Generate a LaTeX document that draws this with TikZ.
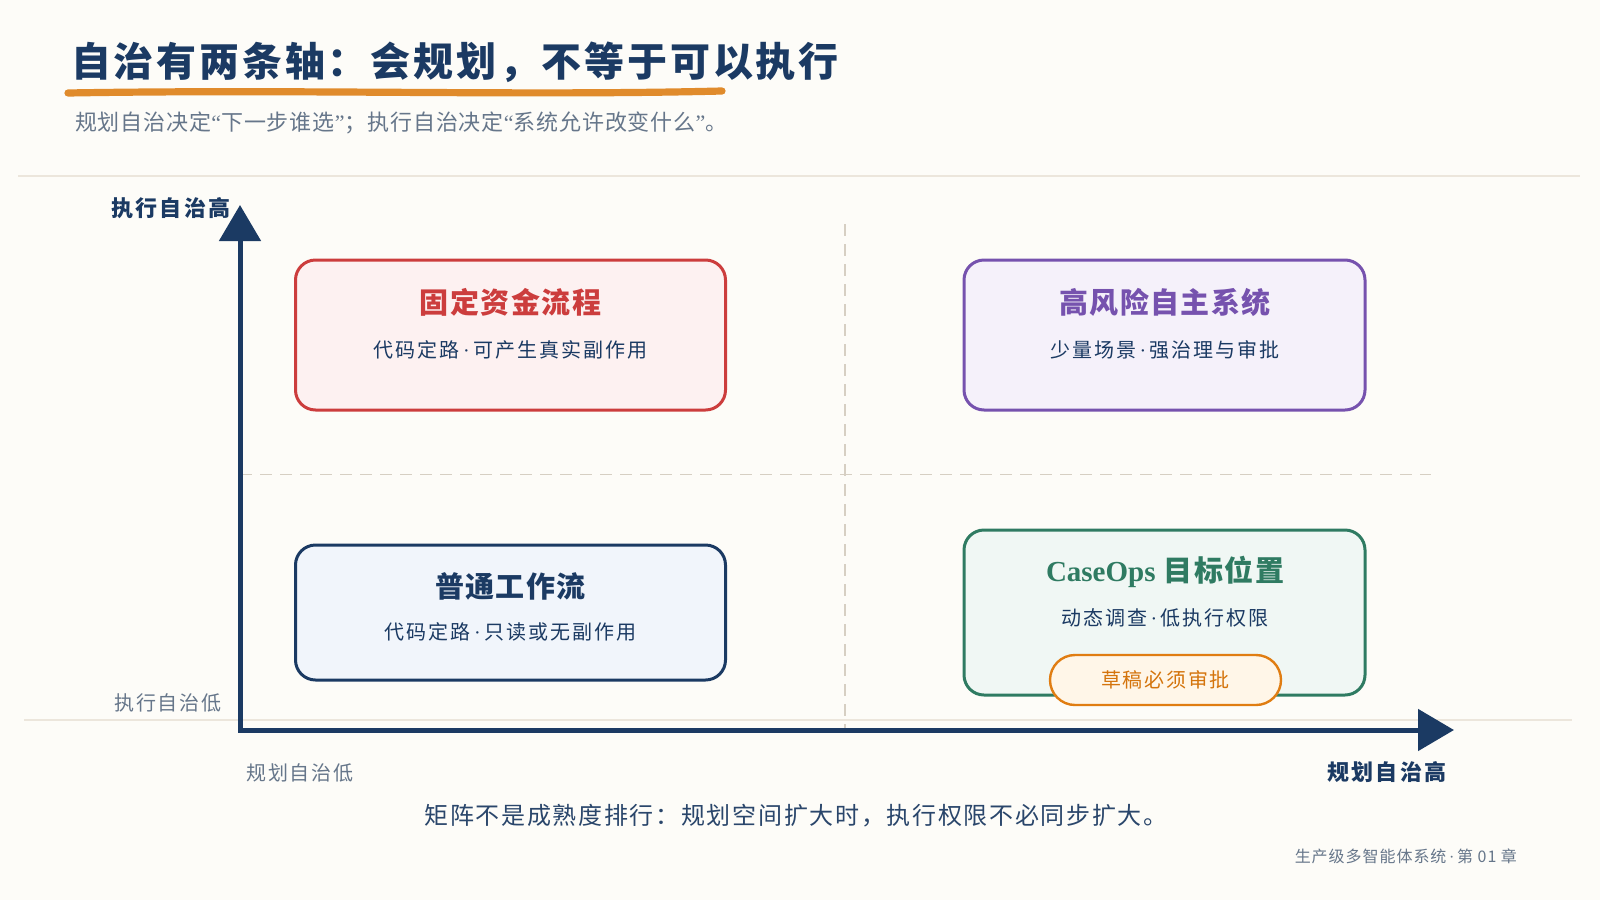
\documentclass[tikz,border=0pt]{standalone}
\usepackage{fontspec}
\setmainfont{Noto Sans CJK SC}
\newfontfamily\latinserif{Liberation Serif}
\usetikzlibrary{arrows.meta}
\definecolor{bg}{HTML}{FDFCF8}
\definecolor{navy}{HTML}{1B3A63}
\definecolor{greytxt}{HTML}{66768A}
\definecolor{rule}{HTML}{ECE6DC}
\definecolor{dashc}{HTML}{D6CFC3}
\definecolor{redS}{HTML}{CC3D3D}
\definecolor{redF}{HTML}{FDF1F1}
\definecolor{purS}{HTML}{7652AE}
\definecolor{purF}{HTML}{F5F1FA}
\definecolor{navF}{HTML}{F1F5FB}
\definecolor{grnS}{HTML}{2F7B62}
\definecolor{grnF}{HTML}{F0F7F4}
\definecolor{orgS}{HTML}{E07D12}
\definecolor{orgF}{HTML}{FFF6E8}
\definecolor{orgT}{HTML}{D4740C}
\definecolor{brush}{HTML}{E08B2C}
\newcommand{\mdot}{{\latinserif\,·\,}}
\newcommand{\myLq}{{\latinserif “}}
\newcommand{\myRq}{{\latinserif ”}}
\newcommand{\ls}[1]{\addfontfeature{LetterSpace=#1}}
\begin{document}
\begin{tikzpicture}[x=0.5pt,y=-0.5pt,
  quad/.style={draw, rounded corners=10pt, line width=1.5pt, minimum width=215pt, inner sep=0pt},
  qtitle/.style={font=\bfseries\fontsize{14.5}{17}\selectfont\ls{5}},
  qsub/.style={text=navy, font=\fontsize{10}{12}\selectfont\ls{10}},
  axislbl/.style={text=navy, font=\bfseries\fontsize{11}{13}\selectfont\ls{10}},
  axislow/.style={text=greytxt, font=\fontsize{10}{12}\selectfont\ls{9}},
  divider/.style={draw=dashc, line width=0.8pt, dash pattern=on 6pt off 4pt},
  axis/.style={draw=navy, line width=2.5pt, line join=miter}
]
\useasboundingbox[fill=bg] (0,0) rectangle (1600,900);

% title
\node[anchor=west, text=navy, font=\bfseries\fontsize{20}{24}\selectfont\ls{7}] (title) at (64,62) {自治有两条轴：会规划，不等于可以执行};
\draw[brush, line width=3.6pt, line cap=round] (68,93) .. controls (300,89) and (520,96) .. (722,91);
\node[anchor=west, text=greytxt, font=\fontsize{11}{13}\selectfont\ls{4}] (subtitle) at (68,123) {规划自治决定\myLq 下一步谁选\myRq ；执行自治决定\myLq 系统允许改变什么\myRq 。};

% light rules
\draw[rule, line width=1pt] (18,176) -- (1580,176);
\draw[rule, line width=1pt] (24,720) -- (1572,720);

% dividers
\coordinate (vtop) at (845,224);
\coordinate (vbot) at (845,730);
\coordinate (hl) at (240,474.5);
\coordinate (hr) at (1431,474.5);
\draw[divider] (vtop) -- (vbot);
\draw[divider] (hl) -- (hr);

% axes
\coordinate (O) at (240,730);
\coordinate (Ytip) at (240,205);
\coordinate (Xtip) at (1454,730);
\draw[axis, {Triangle[length=18pt,width=20.5pt]}-{Triangle[length=18pt,width=20.5pt]}] (Ytip) -- (O) -- (Xtip);

\node[axislbl] (yhigh) at (171,208) {执行自治高};
\node[axislow] (ylow) at (168,703) {执行自治低};
\node[axislow] (xlow) at (300,773) {规划自治低};
\node[axislbl] (xhigh) at (1387,772) {规划自治高};

% quadrants
\node[quad, draw=redS, fill=redF, minimum height=75pt] (q1) at (510.5,335) {};
\node[qtitle, text=redS] (q1t) at (510.5,302) {固定资金流程};
\node[qsub] (q1s) at (510.5,350) {代码定路\mdot 可产生真实副作用};

\node[quad, draw=purS, fill=purF, minimum width=200.5pt, minimum height=75pt] (q2) at (1164.5,335) {};
\node[qtitle, text=purS] (q2t) at (1165,302) {高风险自主系统};
\node[qsub] (q2s) at (1165,350) {少量场景\mdot 强治理与审批};

\node[quad, draw=navy, fill=navF, minimum height=67.5pt] (q3) at (510.5,612.5) {};
\node[qtitle, text=navy] (q3t) at (510.5,586) {普通工作流};
\node[qsub] (q3s) at (510.5,632) {代码定路\mdot 只读或无副作用};

\node[quad, draw=grnS, fill=grnF, minimum width=200.5pt, minimum height=82.5pt] (q4) at (1164.5,612.5) {};
\node[qtitle, text=grnS] (q4t) at (1165,572) {{\latinserif CaseOps} 目标位置};
\node[qsub] (q4s) at (1165,618) {动态调查\mdot 低执行权限};
\node[draw=orgS, fill=orgF, line width=1.2pt, rounded corners=12.5pt, minimum width=115.5pt, minimum height=25pt, inner sep=0pt, text=orgT, font=\fontsize{10}{12}\selectfont\ls{9}] (pill) at (1165.5,680) {草稿必须审批};

% bottom texts
\node[text=navy!80!greytxt, font=\fontsize{12}{14}\selectfont\ls{7}] (note) at (796,816) {矩阵不是成熟度排行：规划空间扩大时，执行权限不必同步扩大。};
\node[anchor=east, text=greytxt, font=\fontsize{8}{10}\selectfont\ls{6}] (footer) at (1524,856) {生产级多智能体系统\mdot 第 01 章};
\end{tikzpicture}
\end{document}
